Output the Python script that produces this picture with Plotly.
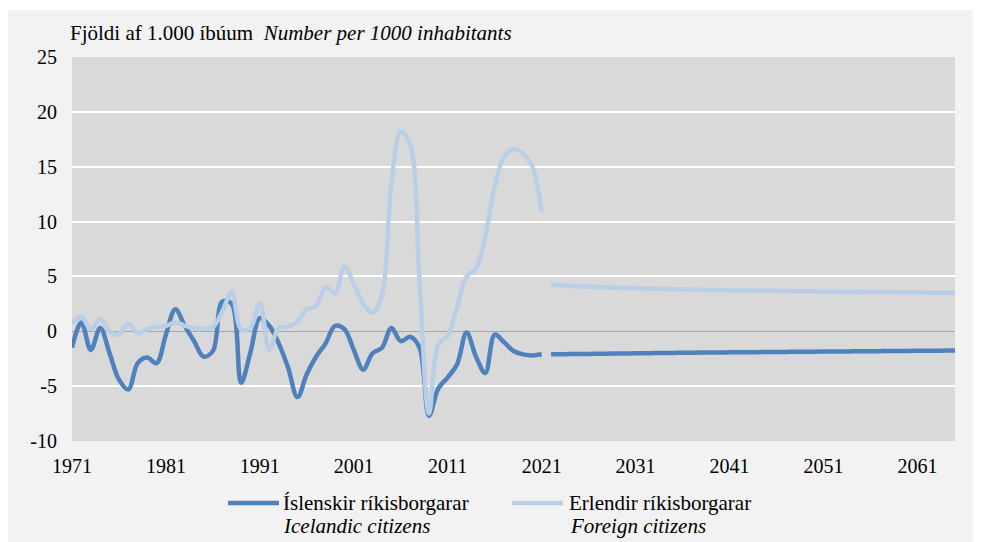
import plotly.graph_objects as go

# ---- data ----
hist_years = list(range(1971, 2022))
proj_years = list(range(2022, 2066))

icelandic_hist = [-1.5, 0.8, -1.7, 0.3, -2.0, -4.4, -5.3, -2.9, -2.4, -2.9,
                  -0.3, 2.0, 0.5, -0.9, -2.3, -1.8, 2.7, 2.5, -4.7, -1.9,
                  1.2, 0.5, -1.1, -3.3, -6.0, -3.9, -2.3, -1.1, 0.5, 0.2,
                  -1.7, -3.5, -2.0, -1.5, 0.3, -0.9, -0.5, -1.5, -7.7, -5.2,
                  -4.2, -3.0, -0.1, -2.3, -3.8, -0.3, -1.0, -1.8, -2.1, -2.2,
                  -2.1]
foreign_hist = [0.7, 1.3, 0.2, 1.1, 0.0, -0.3, 0.7, -0.2, 0.2, 0.4,
                0.5, 0.8, 0.5, 0.3, 0.2, 0.4, 1.8, 3.6, 0.2, 0.3,
                2.6, -1.7, 0.3, 0.4, 0.9, 2.0, 2.3, 4.0, 3.5, 5.9,
                4.3, 2.5, 1.7, 3.3, 13.5, 18.2, 17.0, 4.5, -7.5, -1.2,
                -0.4, 2.2, 5.0, 5.7, 8.7, 13.2, 15.9, 16.6, 16.2, 15.0,
                10.9]
icelandic_proj = [-2.10, -2.09, -2.08, -2.07, -2.06, -2.05, -2.04, -2.03, -2.02, -2.01,
                  -2.00, -1.99, -1.98, -1.97, -1.96, -1.95, -1.94, -1.94, -1.93, -1.92,
                  -1.91, -1.91, -1.90, -1.89, -1.88, -1.88, -1.87, -1.86, -1.86, -1.85,
                  -1.84, -1.84, -1.83, -1.82, -1.82, -1.81, -1.80, -1.80, -1.79, -1.78,
                  -1.78, -1.77, -1.76, -1.75]
foreign_proj = [4.25, 4.20, 4.15, 4.11, 4.07, 4.03, 4.00, 3.97, 3.95, 3.92,
                3.90, 3.88, 3.86, 3.84, 3.82, 3.80, 3.79, 3.77, 3.76, 3.74,
                3.73, 3.72, 3.70, 3.69, 3.68, 3.67, 3.66, 3.65, 3.64, 3.63,
                3.62, 3.61, 3.60, 3.59, 3.58, 3.57, 3.56, 3.55, 3.54, 3.53,
                3.52, 3.52, 3.51, 3.50]

x_ticks = list(range(1971, 2062, 10))
y_ticks = [-10, -5, 0, 5, 10, 15, 20, 25]
y_ticklabels = ["-10", "-5", "0", "5", "10", "15", "20", "25"]

series_names = ["Íslenskir ríkisborgarar", "Erlendir ríkisborgarar"]
series_names_en = ["Icelandic citizens", "Foreign citizens"]
title_is = "Fjöldi af 1.000 íbúum"
title_en = "Number per 1000 inhabitants"

DARK = "#4F81BD"
LIGHT = "#B9CFE8"
FONT = "Liberation Serif"

fig = go.Figure()
for x, y, c in [(hist_years, icelandic_hist, DARK), (proj_years, icelandic_proj, DARK),
                (hist_years, foreign_hist, LIGHT), (proj_years, foreign_proj, LIGHT)]:
    fig.add_trace(go.Scatter(x=x, y=y, mode="lines", showlegend=False,
                             line=dict(color=c, width=4.5, shape="spline", smoothing=1),
                             hoverinfo="x+y"))

# page body has an 8px margin; figure coordinates are offset by it
OFF = 8
W, H = 981 - OFF, 542 - OFF
L, R, T, B = 72 - OFF, 26, 57 - OFF, 101
pw, ph = W - L - R, H - T - B

def px(xpix):  # window pixel -> paper x
    return (xpix - OFF - L) / pw

def py(ypix):  # window pixel -> paper y
    return (H - B - (ypix - OFF)) / ph

shapes = [
    dict(type="rect", xref="paper", yref="paper", x0=px(0), x1=px(W + OFF + 5),
         y0=py(10), y1=py(0), fillcolor="white", line_width=0, layer="below"),
    dict(type="rect", xref="paper", yref="paper", x0=px(976), x1=px(W + OFF + 5),
         y0=py(H + OFF + 5), y1=py(0), fillcolor="white", line_width=0, layer="below"),
    dict(type="line", xref="paper", yref="paper", x0=px(228), x1=px(279),
         y0=py(503), y1=py(503), line=dict(color=DARK, width=4.5)),
    dict(type="line", xref="paper", yref="paper", x0=px(512), x1=px(563),
         y0=py(503), y1=py(503), line=dict(color=LIGHT, width=4.5)),
]

def label(text, xw, yw):
    return dict(xref="paper", yref="paper", x=px(xw), y=py(yw), xanchor="left",
                yanchor="middle", showarrow=False, text=text,
                font=dict(family=FONT, size=21, color="black"))

annotations = [
    label(f"{title_is}  <i>{title_en}</i>", 68, 33),
    label(series_names[0], 281, 503),
    label(f"<i>{series_names_en[0]}</i>", 281, 526),
    label(series_names[1], 567, 503),
    label(f"<i>{series_names_en[1]}</i>", 568, 526),
]

fig.update_layout(
    width=W, height=H,
    margin=dict(l=L, r=R, t=T, b=B, pad=0),
    paper_bgcolor="#F2F2F2", plot_bgcolor="#D9D9D9",
    font=dict(family=FONT, size=20, color="black"),
    shapes=shapes, annotations=annotations,
    showlegend=False,
)
fig.update_xaxes(range=[1971, 2065], tickvals=x_ticks, ticktext=[str(v) for v in x_ticks],
                 showgrid=False, zeroline=False, showline=False, ticks="",
                 ticklabelstandoff=11, tickfont=dict(family=FONT, size=20))
fig.update_yaxes(range=[-10, 25], tickvals=y_ticks, ticktext=y_ticklabels,
                 showgrid=True, gridcolor="white",
                 gridwidth=2, zeroline=True, zerolinecolor="#A6A6A6", zerolinewidth=1,
                 showline=False, ticks="", ticklabelstandoff=14,
                 tickfont=dict(family=FONT, size=20))

fig.write_html("out.html")
